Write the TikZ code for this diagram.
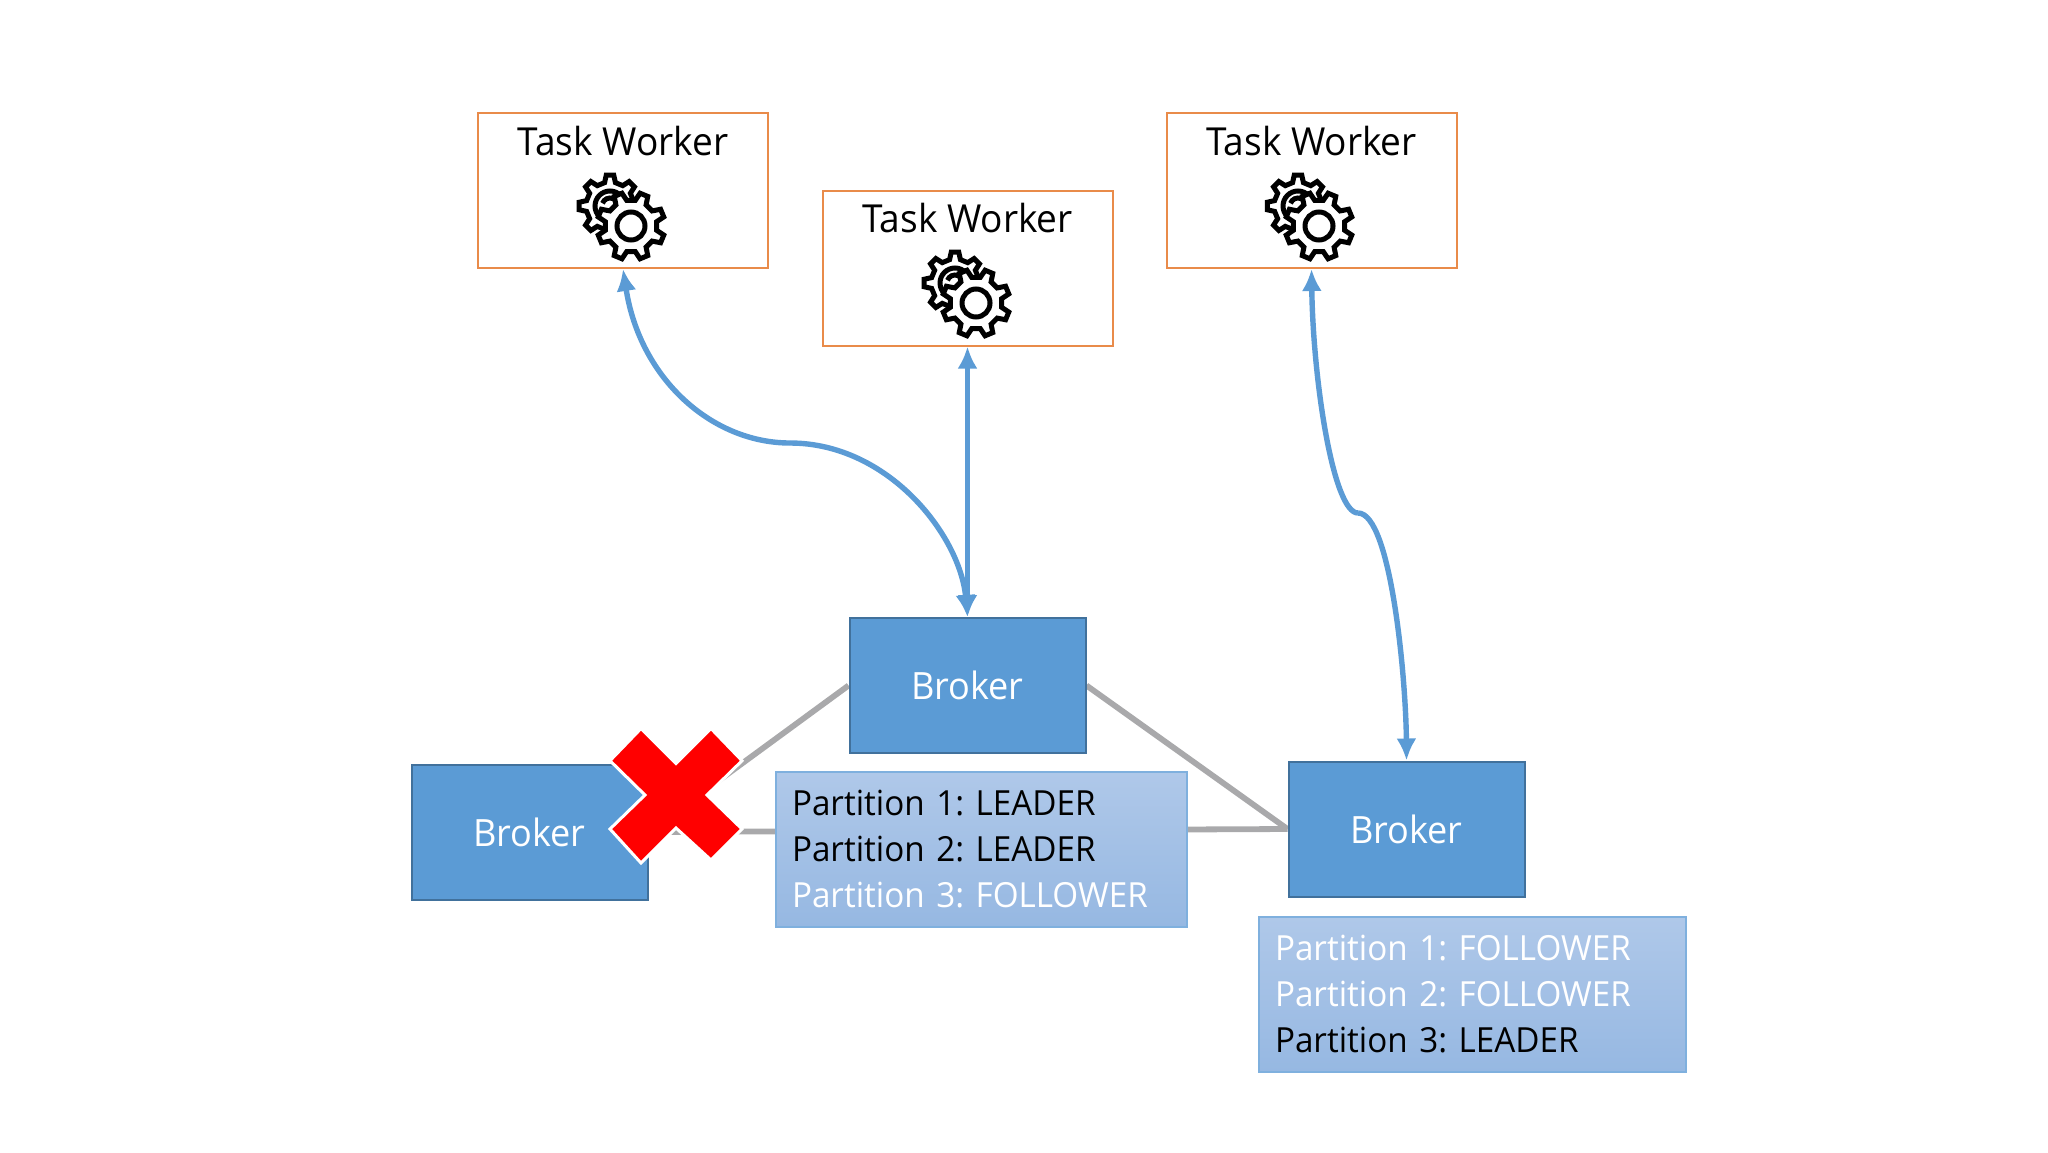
\documentclass[tikz,border=0pt]{standalone}
\usepackage{fontspec}
\setmainfont{Open Sans}[FakeStretch=0.96]
\usetikzlibrary{arrows.meta,shadings}
\definecolor{brokerfill}{HTML}{5B9BD5}
\definecolor{brokerline}{HTML}{41719C}
\definecolor{workerline}{HTML}{E98B4A}
\definecolor{linkgrey}{HTML}{A9A9AB}
\definecolor{parttop}{HTML}{AFC8E9}
\definecolor{partbot}{HTML}{96B8E2}
\definecolor{partline}{HTML}{7FB0DE}
\definecolor{flink}{HTML}{5B9BD5}
\tikzset{
  worker/.style={draw=workerline,line width=1pt,fill=white,minimum width=145pt,minimum height=77.5pt,inner sep=0pt},
  wlabel/.style={font=\fontsize{19.3}{22}\selectfont,text=black,inner sep=0pt},
  broker/.style={draw=brokerline,line width=1pt,fill=brokerfill,minimum width=118pt,minimum height=67.5pt,inner sep=0pt,text=white,font=\fontsize{18.8}{22}\selectfont},
  part/.style={draw=partline,line width=0.7pt,top color=parttop,bottom color=partbot,middle color=parttop!50!partbot,
    inner xsep=8pt,inner ysep=0pt,minimum height=77.5pt,align=left,font=\fontsize{17.3}{23}\selectfont\frenchspacing},
  link/.style={draw=linkgrey,line width=2.9pt},
  flowline/.style={draw=flink,line width=2.7pt},
  gearline/.style={draw=black,line width=2.5pt,line join=miter},
  gears/.pic={
    \begin{scope}[shift={(-21,-20)}]
    \draw[gearline,fill=white] (-13:24) \foreach \a in {0,45,...,315}{
      -- (\a-13:24) -- (\a-7:31) -- (\a+7:31) -- (\a+13:24)
    } -- cycle;
    \draw[gearline] (0,0) circle[radius=15];
    \draw[gearline] (200:8) arc[start angle=200,end angle=330,radius=8];
    \end{scope}
    \draw[gearline,fill=white] (9.5:26) \foreach \a in {22.5,67.5,...,337.5}{
      -- (\a-13:26) -- (\a-7:34) -- (\a+7:34) -- (\a+13:26)
    } -- cycle;
    \draw[gearline] (0,0) circle[radius=14];
  }
}
\begin{document}
\begin{tikzpicture}[x=0.5pt,y=-0.5pt]
\useasboundingbox (0,0) rectangle (2048,1152);
% connectors behind
\node[broker] (bc) at (967.5,685.5) {};
\node[broker] (bl) at (529.5,832) {};
\node[broker] (br) at (1406.5,829) {};
\path[link] (bl.east) -- (bc.west);
\path[link] (bl.east) -- (br.west);
\path[link] (bc.east) -- (br.west);
\node[broker] at (bc.center) (bcl) {Broker};
\node[broker] at (bl.center) (bll) {Broker};
\node[broker] at (br.center) (brl) {Broker};
\node[part,minimum width=205.5pt,text width=189.5pt] (p2) at (981.5,849.5) {Partition 1: LEADER\\Partition 2: LEADER\\\textcolor{white}{Partition 3: FOLLOWER}};
\node[part,minimum width=213.5pt,text width=197.5pt] (p3) at (1472.5,994.5) {\textcolor{white}{Partition 1: FOLLOWER}\\\textcolor{white}{Partition 2: FOLLOWER}\\Partition 3: LEADER};
% workers
\node[worker] (w1) at (623,190.5) {};
\node[worker] (w2) at (967.5,268) {};
\node[worker] (w3) at (1311.5,190.5) {};
\node[wlabel] (t1) at (623,141) {Task Worker};
\node[wlabel] (t2) at (967.5,218) {Task Worker};
\node[wlabel] (t3) at (1311.5,141) {Task Worker};
\pic at (631,226) {gears};
\pic at (976,303) {gears};
\pic at (1319,226) {gears};
% flows
\coordinate (m1) at (790,443);
\coordinate (m3) at (1358,513);
\path[flowline,{Latex[length=11pt,width=10pt]}-] (w1.south) .. controls (640,379) and (712,443) .. (m1);
\path[flowline,-{Latex[length=11pt,width=10pt]}] (m1) .. controls (888,443) and (960,535) .. (bcl.north);
\path[flowline,{Latex[length=11pt,width=10pt]}-{Latex[length=11pt,width=10pt]}] (w2.south) -- (bcl.north);
\path[flowline,{Latex[length=11pt,width=10pt]}-] (w3.south) .. controls (1313,379) and (1333,513) .. (m3);
\path[flowline,-{Latex[length=11pt,width=10pt]}] (m3) .. controls (1391,513) and (1406,679) .. (brl.north);
% red cross
\draw[white,line width=1.5pt,fill=red,line join=miter] (641,728.5) -- (676,763.5) -- (711,728.5) -- (742,760.7) -- (707,795) -- (742,829) -- (711,860) -- (676,828) -- (641,863) -- (610,829) -- (645,795) -- (610,760.7) -- cycle;
\end{tikzpicture}
\end{document}
